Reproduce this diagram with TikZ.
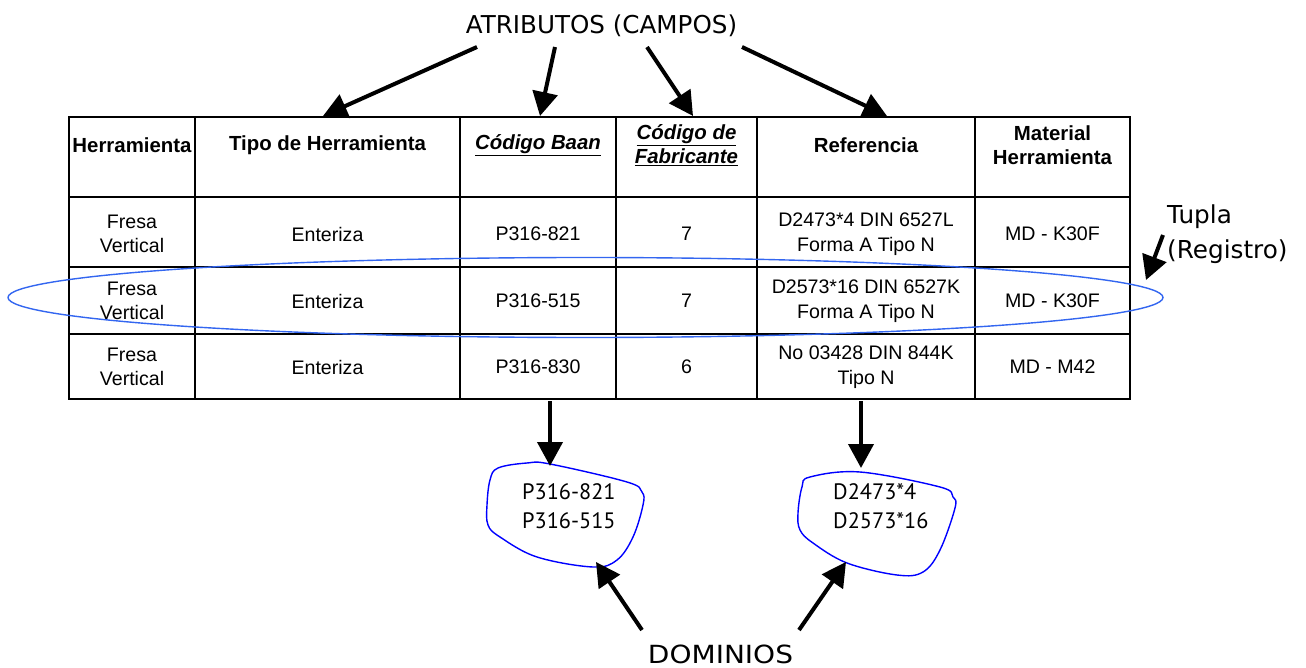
\documentclass[tikz,border=0pt]{standalone}
\usepackage{fontspec}
\setmainfont{Liberation Sans}
\newfontfamily\lblfont{DejaVu Sans}
\newfontfamily\domfont{PT Sans}
\usetikzlibrary{arrows.meta}
\definecolor{tuplablue}{RGB}{51,102,240}
\begin{document}
\begin{tikzpicture}[x=1pt,y=-1pt,
  tbl/.style={line width=2.8pt},
  cell/.style={align=center, inner sep=0pt, font=\fontsize{19.6}{24.5}\selectfont},
  head/.style={align=center, inner sep=0pt, font=\fontsize{20.4}{24}\selectfont\bfseries},
  lbl/.style={inner sep=0pt, anchor=base},
  domtext/.style={align=left, inner sep=0pt, font=\domfont\fontsize{22.3}{28.7}\selectfont},
  arr/.style={line width=4pt, -{Triangle[width=25pt,length=24pt]}},
  blob/.style={draw=blue, line width=1.4pt},
]
\useasboundingbox (0,0) rectangle (1306,668);

% table grid
\draw[tbl] (69,117) rectangle (1130,399);
\foreach \x in {195,460,616,757,975} \draw[tbl] (\x,117) -- (\x,399);
\foreach \y in {197,267,334} \draw[tbl] (69,\y) -- (1130,\y);

% header row
\node[head] (h1) at (132,145) {Herramienta};
\node[head] (h2) at (327.5,145) {Tipo de Herramienta};
\node[head] (h3) at (538,145) {\underline{\itshape Código Baan}};
\node[head] (h4) at (686.5,145) {\underline{\itshape Código de}\\\underline{\itshape Fabricante}};
\node[head] (h5) at (866,145) {Referencia};
\node[head] (h6) at (1052.5,145) {Material\\Herramienta};

% data rows
\node[cell] (r1c1) at (132,234) {Fresa\\Vertical};
\node[cell] (r1c2) at (327.5,234) {Enteriza};
\node[cell] (r1c3) at (538,234) {P316-821};
\node[cell] (r1c4) at (686.5,234) {7};
\node[cell] (r1c5) at (866,234) {D2473*4 DIN 6527L\\Forma A Tipo N};
\node[cell] (r1c6) at (1052.5,234) {MD - K30F};

\node[cell] (r2c1) at (132,301) {Fresa\\Vertical};
\node[cell] (r2c2) at (327.5,301) {Enteriza};
\node[cell] (r2c3) at (538,301) {P316-515};
\node[cell] (r2c4) at (686.5,301) {7};
\node[cell] (r2c5) at (866,301) {D2573*16 DIN 6527K\\Forma A Tipo N};
\node[cell] (r2c6) at (1052.5,301) {MD - K30F};

\node[cell] (r3c1) at (132,367) {Fresa\\Vertical};
\node[cell] (r3c2) at (327.5,367) {Enteriza};
\node[cell] (r3c3) at (538,367) {P316-830};
\node[cell] (r3c4) at (686.5,367) {6};
\node[cell] (r3c5) at (866,367) {No 03428 DIN 844K\\Tipo N};
\node[cell] (r3c6) at (1052.5,367) {MD - M42};

% tuple outline
\draw[draw=tuplablue, line width=1.4pt] (585.5,297.5) ellipse [x radius=577.5pt, y radius=40pt];

% attributes
\node[lbl, font=\lblfont\fontsize{24.6}{28}\selectfont] (attr) at (601.5,33.3) {ATRIBUTOS (CAMPOS)};
\coordinate (a1s) at (477,47); \coordinate (a1e) at (323,116);
\coordinate (a2s) at (555,47); \coordinate (a2e) at (540,116);
\coordinate (a3s) at (647,47); \coordinate (a3e) at (693,116);
\coordinate (a4s) at (742,47); \coordinate (a4e) at (887,116);
\draw[arr] (a1s) -- (a1e);
\draw[arr] (a2s) -- (a2e);
\draw[arr] (a3s) -- (a3e);
\draw[arr] (a4s) -- (a4e);

% tuple label
\node[inner sep=0pt, font=\lblfont\fontsize{24.7}{35}\selectfont, align=left, anchor=west] (tupla) at (1167,234) {Tupla\\(Registro)};
\coordinate (ts) at (1163,235); \coordinate (te) at (1146,280);
\draw[arr] (ts) -- (te);

% domains
\draw[blob] plot[smooth cycle, tension=0.6] coordinates {
  (498,468) (527,463) (550,464) (627,482) (642,492) (643,505)
  (633,537) (617,560) (593,567) (537,557) (500,537) (488,525)
  (487,505) (490,480)};
\draw[blob] plot[smooth cycle, tension=0.6] coordinates {
  (810,477) (860,472) (940,487) (953,497) (955,508)
  (940,550) (923,572) (897,575) (847,563) (813,543) (800,530)
  (798,513) (802,487)};
\node[domtext, anchor=west] (dom1) at (522,506) {P316-821\\P316-515};
\node[domtext, anchor=west] (dom2) at (833,506) {D2473*4\\D2573*16};

\coordinate (d1s) at (550,401); \coordinate (d1e) at (550,466);
\coordinate (d2s) at (861,401); \coordinate (d2e) at (861,468);
\draw[arr] (d1s) -- (d1e);
\draw[arr] (d2s) -- (d2e);

\node[lbl, font=\lblfont\fontsize{25}{28}\selectfont] (dominios) at (720.5,663) {\scalebox{1.12}[1]{DOMINIOS}};
\coordinate (m1s) at (642,630); \coordinate (m1e) at (596,562);
\coordinate (m2s) at (799,630); \coordinate (m2e) at (846,562);
\draw[arr] (m1s) -- (m1e);
\draw[arr] (m2s) -- (m2e);
\end{tikzpicture}
\end{document}
